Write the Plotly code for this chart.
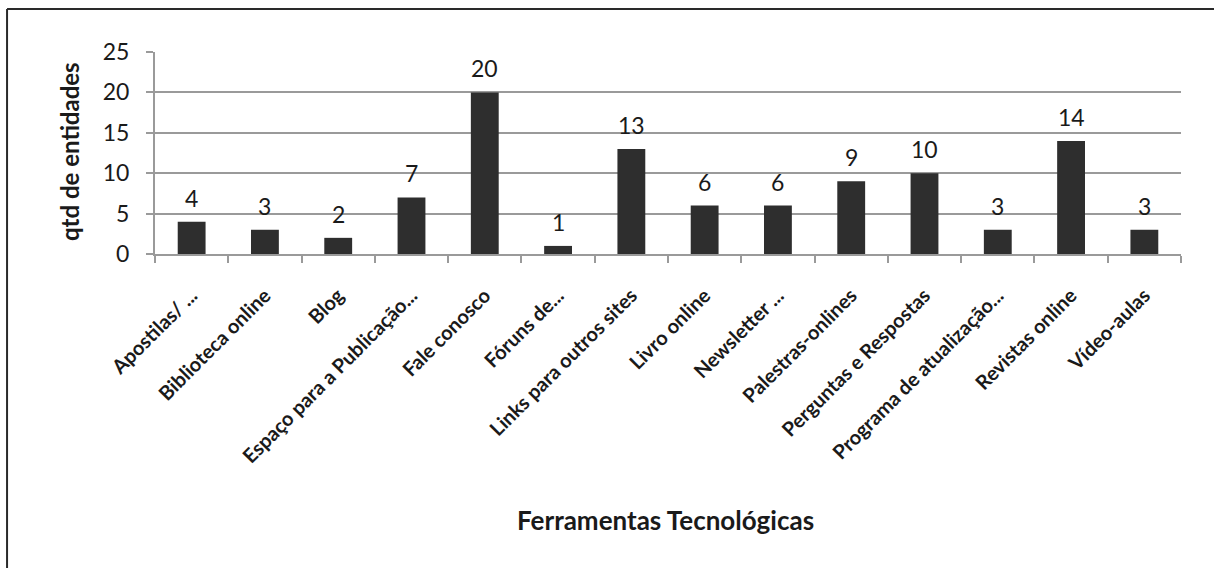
import plotly.graph_objects as go

categorias = [
    "Apostilas/ ...", "Biblioteca online", "Blog", "Espaço para a Publicação...",
    "Fale conosco", "Fóruns de...", "Links para outros sites", "Livro online",
    "Newsletter ...", "Palestras-onlines", "Perguntas e Respostas",
    "Programa de atualização...", "Revistas online", "Vídeo-aulas",
]
quantidades = [4, 3, 2, 7, 20, 1, 13, 6, 6, 9, 10, 3, 14, 3]
y_ticks = [0, 5, 10, 15, 20, 25]

FONT = "Lato"
INK = "#1a1a1a"
GRID = "#9a9a9a"

fig = go.Figure(
    go.Bar(
        x=categorias,
        y=quantidades,
        marker=dict(color="#2e2e2e", line=dict(width=0)),
        hoverinfo="skip",
    )
)

# value labels above each bar
for cat, val in zip(categorias, quantidades):
    fig.add_annotation(
        x=cat, y=val, text=str(val), showarrow=False,
        yanchor="bottom", yshift=8,
        font=dict(family=FONT, size=23, color=INK),
    )

fig.update_layout(
    width=1214,
    height=568,
    margin=dict(l=155, r=33, t=52, b=314),
    paper_bgcolor="white",
    plot_bgcolor="white",
    bargap=0.62,
    showlegend=False,
    font=dict(family=FONT, color=INK),
)

fig.update_xaxes(
    type="category",
    tickangle=-45,
    tickfont=dict(family=FONT, size=20, color=INK, weight="bold"),
    ticklabelstandoff=20,
    showline=True,
    linecolor=GRID,
    linewidth=2,
    ticks="outside",
    tickson="boundaries",
    ticklen=7,
    tickwidth=2,
    tickcolor=GRID,
    showgrid=False,
)

fig.update_yaxes(
    range=[0, 25],
    tickvals=y_ticks,
    tickfont=dict(family=FONT, size=23, color=INK),
    ticklabelstandoff=12,
    showline=True,
    linecolor=GRID,
    linewidth=2,
    ticks="outside",
    ticklen=7,
    tickwidth=2,
    tickcolor=GRID,
    showgrid=True,
    gridcolor=GRID,
    gridwidth=2,
    zeroline=False,
)

# axis titles
fig.add_annotation(
    text="qtd de entidades", xref="paper", yref="paper",
    x=-0.0828, y=0.505, xanchor="center", yanchor="middle",
    textangle=-90, showarrow=False,
    font=dict(family=FONT, size=24, color=INK, weight="bold"),
)
fig.add_annotation(
    text="Ferramentas Tecnológicas", xref="paper", yref="paper",
    x=0.498, y=-1.317, xanchor="center", yanchor="middle", showarrow=False,
    font=dict(family=FONT, size=26, color=INK, weight="bold"),
)

# frame around the chart (left and top edges)
fig.add_shape(type="line", xref="paper", yref="paper",
              x0=-0.1442, x1=-0.1442, y0=1.2129, y1=-1.56,
              line=dict(color="#2a2a2a", width=2))
fig.add_shape(type="line", xref="paper", yref="paper",
              x0=-0.1442, x1=1.04, y0=1.2129, y1=1.2129,
              line=dict(color="#2a2a2a", width=2))

fig.write_html("out.html")
